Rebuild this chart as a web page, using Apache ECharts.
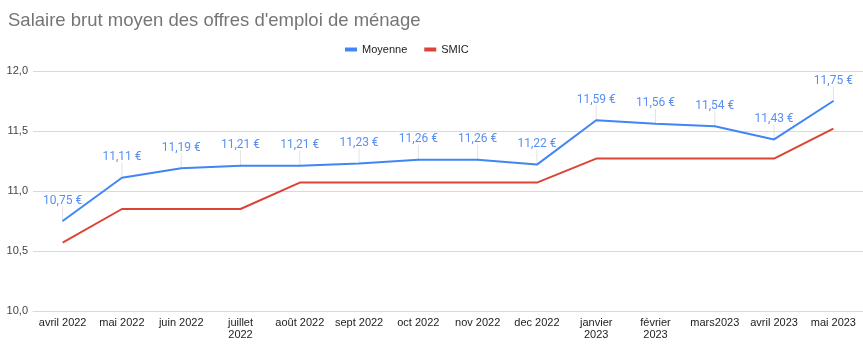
<!DOCTYPE html>
<html>
<head>
<meta charset="utf-8">
<script src="https://cdn.jsdelivr.net/npm/echarts@6/dist/echarts.min.js"></script>
<style>
  html, body { margin: 0; padding: 0; background: #fff; }
  #main { width: 863px; height: 352px; }
</style>
</head>
<body>
<div id="main"></div>
<script>
  // données
  var mois = ['avril 2022', 'mai 2022', 'juin 2022', 'juillet\n2022', 'août 2022', 'sept 2022', 'oct 2022',
    'nov 2022', 'dec 2022', 'janvier\n2023', 'février\n2023', 'mars2023', 'avril 2023', 'mai 2023'];
  var moyenne = [10.75, 11.11, 11.19, 11.21, 11.21, 11.23, 11.26, 11.26, 11.22, 11.59, 11.56, 11.54, 11.43, 11.75];
  var smic = [10.57, 10.85, 10.85, 10.85, 11.07, 11.07, 11.07, 11.07, 11.07, 11.27, 11.27, 11.27, 11.27, 11.52];

  var bleu = '#4285F4', rouge = '#DB4437';
  var myChart = echarts.init(document.getElementById('main'));

  var option = {
    animation: false,
    title: {
      text: "Salaire brut moyen des offres d'emploi de ménage",
      left: 3,
      top: 6,
      textStyle: {
        fontFamily: 'Liberation Sans, Arial',
        fontSize: 18.5,
        fontWeight: 'normal',
        color: '#757575'
      }
    },
    legend: {
      top: 39,
      left: 340,
      itemWidth: 12,
      itemHeight: 4,
      itemGap: 17,
      icon: 'rect',
      textStyle: { fontFamily: 'Liberation Sans, Arial', fontSize: 11, color: '#222' },
      data: ['Moyenne', 'SMIC']
    },
    grid: { left: 33, right: 0, top: 71, bottom: 41 },
    xAxis: {
      type: 'category',
      data: mois,
      axisTick: { show: false },
      axisLine: { lineStyle: { color: '#d9d9d9' } },
      axisLabel: {
        interval: 0,
        margin: 6,
        lineHeight: 12,
        fontFamily: 'Liberation Sans, Arial',
        fontSize: 11,
        color: '#222'
      }
    },
    yAxis: {
      type: 'value',
      min: 10,
      max: 12,
      interval: 0.5,
      axisLine: { show: false },
      axisTick: { show: false },
      splitLine: { lineStyle: { color: '#d9d9d9' } },
      axisLabel: {
        margin: 5,
        fontFamily: 'Liberation Sans, Arial',
        fontSize: 11,
        color: '#444',
        formatter: function (v) { return v.toFixed(1).replace('.', ','); }
      }
    },
    series: [
      {
        // petits traits gris sous les étiquettes
        type: 'custom',
        silent: true,
        z: 1,
        data: moyenne.map(function (v, i) { return [i, v]; }),
        renderItem: function (params, api) {
          var p = api.coord([api.value(0), api.value(1)]);
          return {
            type: 'line',
            shape: { x1: p[0], y1: p[1], x2: p[0], y2: p[1] - 15 },
            style: { stroke: '#e3e3e3', lineWidth: 1 }
          };
        }
      },
      {
        name: 'Moyenne',
        type: 'line',
        z: 3,
        symbol: 'circle',
        symbolSize: 1,
        color: bleu,
        lineStyle: { width: 2, color: bleu },
        data: moyenne,
        label: {
          show: true,
          position: 'top',
          distance: 14,
          fontFamily: 'Roboto',
          fontSize: 12,
          color: '#5a8ff2',
          formatter: function (p) { return p.value.toFixed(2).replace('.', ',') + ' €'; }
        }
      },
      {
        name: 'SMIC',
        type: 'line',
        z: 2,
        symbol: 'none',
        color: rouge,
        lineStyle: { width: 2, color: rouge },
        data: smic
      }
    ]
  };
  myChart.setOption(option);
</script>
</body>
</html>
